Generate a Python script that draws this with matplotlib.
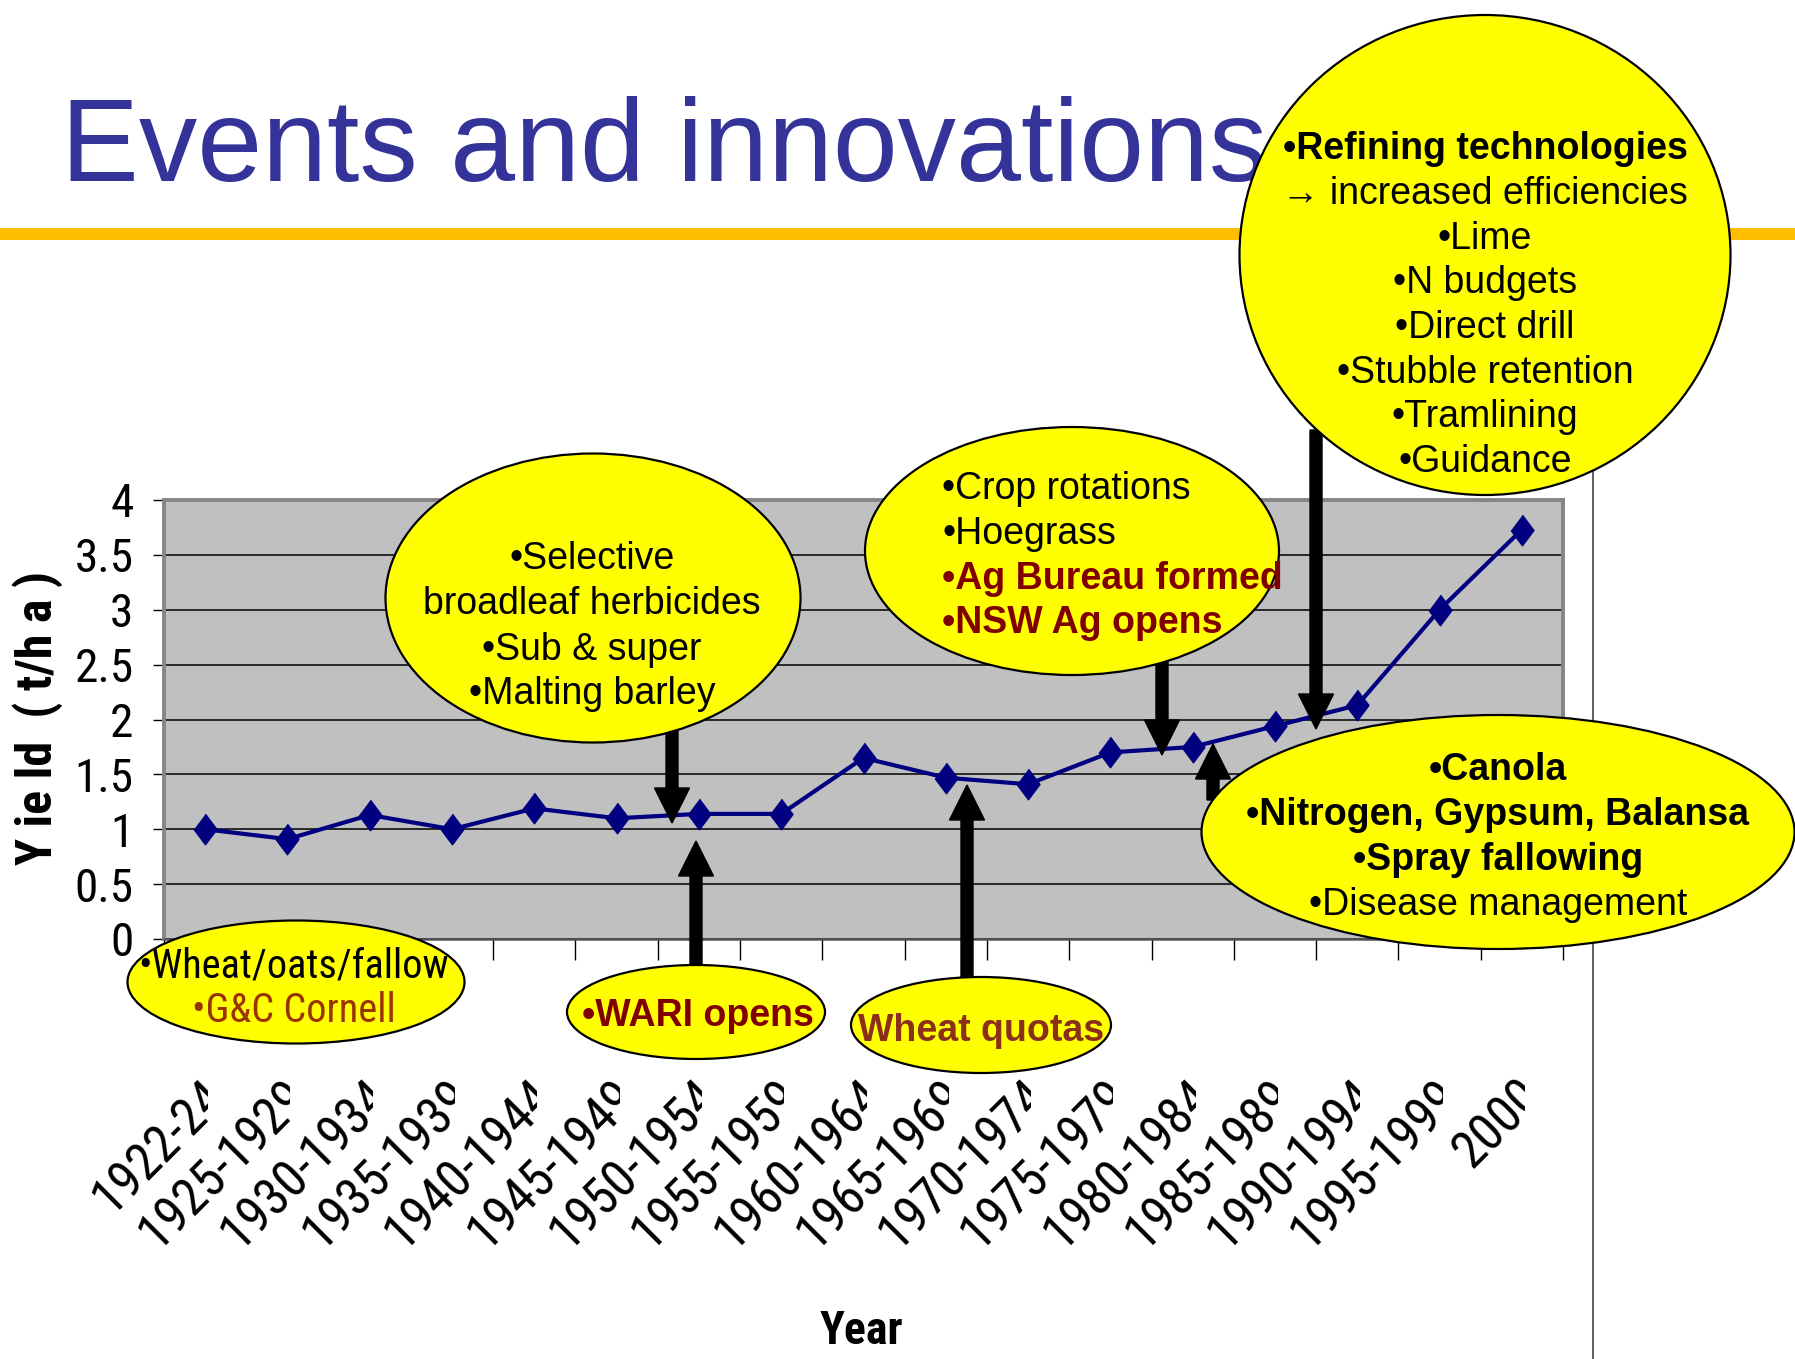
import numpy as np
import matplotlib
matplotlib.use('Agg')
import matplotlib.pyplot as plt
from matplotlib import font_manager
from matplotlib.patches import Ellipse, FancyArrow
from matplotlib.transforms import blended_transform_factory, Bbox

# data
periods = ['1922-24', '1925-1929', '1930-1934', '1935-1939', '1940-1944', '1945-1949',
           '1950-1954', '1955-1959', '1960-1964', '1965-1969', '1970-1974', '1975-1979',
           '1980-1984', '1985-1989', '1990-1994', '1995-1999', '2000']
yield_tha = [1.0, 0.91, 1.13, 1.0, 1.19, 1.1, 1.14, 1.14, 1.65, 1.47, 1.41, 1.7,
             1.75, 1.94, 2.13, 3.0, 3.73]
y_ticks = [0, 0.5, 1, 1.5, 2, 2.5, 3, 3.5, 4]
y_tick_labels = ['0', '0.5', '1', '1.5', '2', '2.5', '3', '3.5', '4']

W, H = 1795, 1359
REG = ['Liberation Sans', 'DejaVu Sans']

# look for a narrow face (Arial Narrow look-alike); fall back to regular
fonts = font_manager.fontManager.ttflist
names = {f.name for f in fonts}
NAR, STRETCH, ns = REG, 'normal', 0.88
for cand in ['Liberation Sans Narrow', 'Arial Narrow', 'Roboto Condensed', 'Open Sans Condensed']:
    if cand in names:
        NAR, ns = [cand, 'DejaVu Sans'], 1.0
        break
else:
    if any(f.name == 'DejaVu Sans' and f.stretch == 'condensed' for f in fonts):
        NAR, STRETCH, ns = ['DejaVu Sans'], 'condensed', 0.9

def fx(px):
    return px / W

def fy(py):
    return 1 - py / H

fig = plt.figure(figsize=(W / 100, H / 100), dpi=100)
fig.patch.set_facecolor('white')

# chart area
ax = fig.add_axes([fx(164), fy(939), fx(1563) - fx(164), fy(500) - fy(939)])
ax.set_facecolor('#C0C0C0')
x = np.arange(len(periods))
diamond = [(0, 1), (0.75, 0), (0, -1), (-0.75, 0)]
ax.plot(x, yield_tha, color='#000080', lw=3.0, marker=diamond, ms=22,
        mfc='#000080', mec='#000080', zorder=3)
ax.set_xlim(-0.5, len(periods) - 0.5)
ax.set_ylim(0, 4)
ax.set_yticks(y_ticks)
ax.set_yticklabels(y_tick_labels, fontsize=34 * ns, family=NAR, fontstretch=STRETCH)
ax.yaxis.grid(True, color='black', lw=1.1)
ax.set_axisbelow(True)
ax.set_xticks(np.arange(-0.5, len(periods), 1))
ax.tick_params(axis='x', length=15, width=1, direction='out', labelbottom=False)
ax.tick_params(axis='y', length=8, width=1, direction='out', pad=14)
for s in ['top', 'right', 'left']:
    ax.spines[s].set_color('#858585')
    ax.spines[s].set_linewidth(2.8)
ax.spines['bottom'].set_color('#555555')
ax.spines['bottom'].set_linewidth(1.8)

# rotated category labels, clipped at their category centre like the original
tr = blended_transform_factory(ax.transData, fig.transFigure)
for i, lab in enumerate(periods):
    t = fig.text(i + 0.15, fy(1088), lab, transform=tr, rotation=45, rotation_mode='anchor',
                 ha='right', va='center', fontsize=37 * ns, family=NAR, fontstretch=STRETCH)
    xp = ax.transData.transform((i, 0))[0]
    t.set_clip_on(True)
    t.set_clip_box(Bbox.from_extents(0, 0, xp + 3, H))

fig.text(fx(38), fy(718), 'Y ie ld  ( t/h a )', rotation=90, ha='center', va='center',
         fontsize=36 * ns, fontweight='bold', family=NAR, fontstretch=STRETCH)
fig.text(fx(861), fy(1331), 'Year', ha='center', va='center',
         fontsize=33 * ns, fontweight='bold', family=NAR, fontstretch=STRETCH)

# slide overlay in pixel units
ov = fig.add_axes([0, 0, 1, 1], zorder=5)
ov.set_xlim(0, W)
ov.set_ylim(H, 0)
ov.set_facecolor('none')
ov.axis('off')

ov.text(61, 181, 'Events and innovations', fontsize=84, color='#333399', family=REG,
        ha='left', va='baseline', zorder=1)
ov.plot([0, W], [234, 234], color='#FFBF00', lw=8.6, solid_capstyle='butt', zorder=1)
ov.plot([1593, 1593], [240, H], color='#444444', lw=1.2, zorder=1)

# arrows (x, start y, tip y)
arrows = [(672, 700, 823), (696, 1010, 841), (967, 1020, 785),
          (1162, 640, 755), (1213, 800, 744), (1316, 430, 729)]
for ax_x, y0, y1 in arrows:
    ov.add_patch(FancyArrow(ax_x, y0, 0, y1 - y0, width=12, head_width=35, head_length=35,
                            length_includes_head=True, color='black', zorder=2))

# bubbles: centre x, centre y, width, height
bubbles = [(296, 982, 337, 123), (593, 598, 415, 289), (696, 1012, 258, 94),
           (981, 1025, 260, 96), (1072, 551, 414, 248), (1485, 255, 491, 480),
           (1498, 832, 593, 234)]
for cx, cy, w, h in bubbles:
    ov.add_patch(Ellipse((cx, cy), w, h, facecolor='#FFFF00', edgecolor='black',
                         lw=1.6, zorder=3))

def say(xx, yy, s, size=27, bold=False, color='black', ha='center', fam=REG, stretch='normal'):
    ov.text(xx, yy + 4, s, fontsize=size, fontweight='bold' if bold else 'normal', color=color,
            ha=ha, va='center', family=fam, fontstretch=stretch, zorder=4)

DRED = '#800000'
say(294, 962, '•Wheat/oats/fallow', size=29 * ns, fam=NAR, stretch=STRETCH)
say(294, 1007, '•G&C Cornell', size=29 * ns, color='#993300', fam=NAR, stretch=STRETCH)

for yy, s in zip([555, 600, 646, 690],
                 ['•Selective', 'broadleaf herbicides', '•Sub & super', '•Malting barley']):
    say(592, yy, s)

say(698, 1012, '•WARI opens', bold=True, color=DRED)
say(981, 1027, 'Wheat quotas', bold=True, color='#8B2E1A')

say(942, 485, '•Crop rotations', ha='left')
say(942, 530, '•Hoegrass', ha='left')
say(942, 575, '•Ag Bureau formed', bold=True, color=DRED, ha='left')
say(942, 619, '•NSW Ag opens', bold=True, color=DRED, ha='left')

circle_lines = ['•Refining technologies', '→ increased efficiencies', '•Lime', '•N budgets',
                '•Direct drill', '•Stubble retention', '•Tramlining', '•Guidance']
for k, (yy, s) in enumerate(zip([145, 190, 235, 279, 324, 369, 413, 458], circle_lines)):
    say(1485, yy, s, bold=(k == 0))

canola_lines = [('•Canola', True), ('•Nitrogen, Gypsum, Balansa', True),
                ('•Spray fallowing', True), ('•Disease management', False)]
for yy, (s, b) in zip([766, 811, 856, 901], canola_lines):
    say(1498, yy, s, bold=b)

fig.savefig('out.png', dpi=100)
